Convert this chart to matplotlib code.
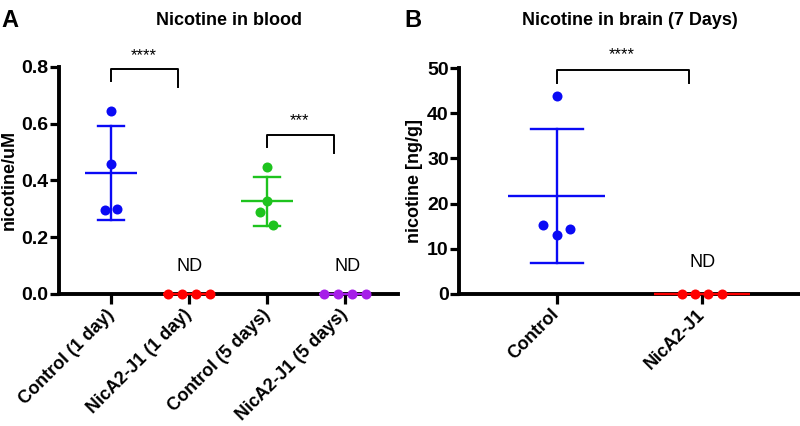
import matplotlib
matplotlib.use("Agg")
import matplotlib.pyplot as plt
import numpy as np

plt.rcParams['font.family'] = ['Liberation Sans', 'DejaVu Sans']

# Panel A: nicotine in blood (uM)
blood_groups = ["Control (1 day)", "NicA2-J1 (1 day)", "Control (5 days)", "NicA2-J1 (5 days)"]
blood_values = [
    [0.646, 0.457, 0.295, 0.300],
    [0.0, 0.0, 0.0, 0.0],
    [0.446, 0.328, 0.287, 0.243],
    [0.0, 0.0, 0.0, 0.0],
]
blood_colors = ['#0a0af5', '#ff0000', '#1ec31e', '#a61ee8']
blood_yticks = [0.0, 0.2, 0.4, 0.6, 0.8]

# Panel B: nicotine in brain (ng/g)
brain_groups = ["Control", "NicA2-J1"]
brain_values = [
    [43.8, 15.3, 13.0, 14.4],
    [0.0, 0.0, 0.0, 0.0],
]
brain_colors = ['#0a0af5', '#ff0000']
brain_yticks = [0, 10, 20, 30, 40, 50]

# 点的横向偏移（按画面估计）
jit_ctrl_a = [0.0, 0.0, -0.086, 0.08]
jit_nd_a = [-0.27, -0.09, 0.09, 0.27]
jit_ctrl_b = [0.0, -0.092, 0.0, 0.092]
jit_nd_b = [-0.138, -0.048, 0.041, 0.138]

fig = plt.figure(figsize=(8, 4.26), dpi=100)
axA = fig.add_axes([0.07375, 0.31, 0.424, 0.533])
axB = fig.add_axes([0.574, 0.31, 0.426, 0.53])


def scatter_group(ax, x, vals, jit, color, mean_hw=0.333, cap_hw=0.167):
    vals = np.array(vals)
    m = vals.mean()
    sd = vals.std(ddof=1)
    ax.plot([x - mean_hw, x + mean_hw], [m, m], color=color, lw=1.7, zorder=4, clip_on=False,
            solid_capstyle='butt')
    if sd > 0:
        ax.plot([x, x], [m - sd, m + sd], color=color, lw=1.7, zorder=4)
        for v in (m - sd, m + sd):
            ax.plot([x - cap_hw, x + cap_hw], [v, v], color=color, lw=1.7, zorder=4)
    ax.scatter(x + np.array(jit), vals, s=52, color=color, zorder=6, clip_on=False, linewidths=0)


def bracket(ax, x1, x2, ytop, yl, yr, text, ty):
    ax.plot([x1, x1, x2, x2], [yl, ytop, ytop, yr], color='black', lw=1.4, zorder=3)
    ax.text((x1 + x2) / 2 - 0.01, ty, text, ha='center', va='center', fontsize=12)


def style_axis(ax):
    for s in ['top', 'right']:
        ax.spines[s].set_visible(False)
    for s in ['left', 'bottom']:
        ax.spines[s].set_linewidth(2.8)
    ax.tick_params(axis='y', length=6.5, width=2.3, pad=1, labelsize=14)
    ax.tick_params(axis='x', length=7, width=2.3, pad=6, labelsize=13)
    for lab in ax.get_yticklabels():
        lab.set_fontweight('bold')


# ---- Panel A ----
for i, vals in enumerate(blood_values):
    if i % 2 == 0:
        scatter_group(axA, i, vals, jit_ctrl_a, blood_colors[i])
    else:
        scatter_group(axA, i, vals, jit_nd_a, blood_colors[i])
axA.set_xlim(-0.67, 3.68)
axA.set_ylim(0, 0.8)
axA.set_yticks(blood_yticks)
axA.set_yticklabels([f'{t:.1f}' for t in blood_yticks])
axA.set_xticks(range(len(blood_groups)))
axA.set_xticklabels(blood_groups, rotation=45, ha='right', va='center', rotation_mode='anchor',
                    fontweight='bold')
style_axis(axA)
axA.set_ylabel('nicotine/uM', fontsize=13, fontweight='bold', labelpad=3)
bracket(axA, 0, 0.86, 0.793, 0.751, 0.73, '****', 0.84)
bracket(axA, 2, 2.86, 0.560, 0.518, 0.497, '***', 0.61)
axA.text(1.0, 0.095, 'ND', ha='center', va='center', fontsize=13)
axA.text(3.03, 0.095, 'ND', ha='center', va='center', fontsize=13)

# ---- Panel B ----
scatter_group(axB, 0, brain_values[0], jit_ctrl_b, brain_colors[0], cap_hw=0.18)
scatter_group(axB, 1, brain_values[1], jit_nd_b, brain_colors[1])
axB.set_xlim(-0.672, 1.674)
axB.set_ylim(0, 50)
axB.set_yticks(brain_yticks)
axB.set_xticks(range(len(brain_groups)))
axB.set_xticklabels(brain_groups, rotation=45, ha='right', va='center', rotation_mode='anchor',
                    fontweight='bold')
style_axis(axB)
axB.set_ylabel('nicotine [ng/g]', fontsize=13, fontweight='bold', labelpad=3)
bracket(axB, 0, 0.908, 49.5, 46.8, 46.7, '****', 52.9)
axB.text(1.0, 6.9, 'ND', ha='center', va='center', fontsize=13)

# 标题和面板字母
fig.text(0.286, 0.953, 'Nicotine in blood', ha='center', va='center', fontsize=13, fontweight='bold')
fig.text(0.7875, 0.953, 'Nicotine in brain (7 Days)', ha='center', va='center', fontsize=13,
         fontweight='bold')
fig.text(0.002, 0.953, 'A', ha='left', va='center', fontsize=17, fontweight='bold')
fig.text(0.506, 0.953, 'B', ha='left', va='center', fontsize=17, fontweight='bold')

fig.savefig('out.png', dpi=100)
